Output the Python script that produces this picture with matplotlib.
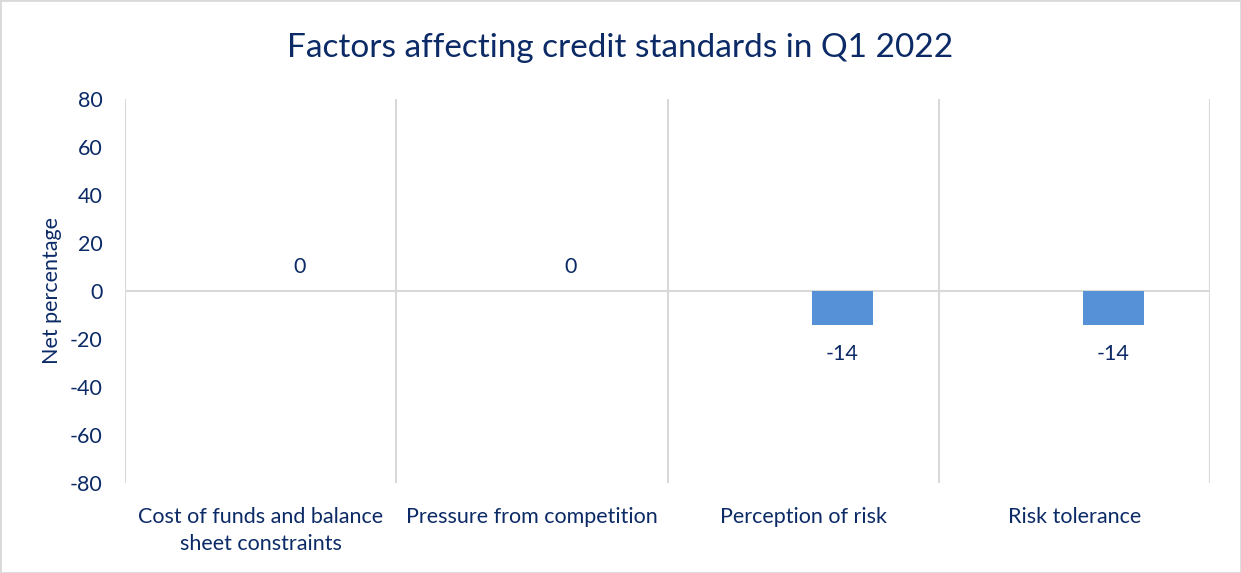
import matplotlib
matplotlib.use("Agg")
import matplotlib.pyplot as plt
import numpy as np

categories = ["Cost of funds and balance\nsheet constraints", "Pressure from competition",
              "Perception of risk", "Risk tolerance"]
values = [0, 0, -14, -14]
yticks = [80, 60, 40, 20, 0, -20, -40, -60, -80]

navy = "#0B2A66"
grid = "#D9D9D9"
barc = "#5690D7"
fs = 15.5

plt.rcParams['font.family'] = ['Lato', 'DejaVu Sans']

fig = plt.figure(figsize=(12.41, 5.73), dpi=100)
ax = fig.add_axes([125/1241, 1-483/573, (1210-125)/1241, (483-99)/573])

x = np.arange(len(categories))
offset = 0.144  # bar sits in the right slot of a cluster
ax.bar(x + offset, values, width=0.225, color=barc, zorder=3)
ax.set_xlim(-0.5, len(categories) - 0.5)
ax.set_ylim(-80, 80)
ax.set_yticks(yticks)
ax.set_yticklabels([str(t) for t in yticks], color=navy, fontsize=fs)
ax.tick_params(axis='y', length=0, pad=16)
ax.set_xticks(x)
ax.set_xticklabels(categories, color=navy, fontsize=fs, linespacing=1.45)
ax.tick_params(axis='x', length=0, pad=17)

for s in ax.spines.values():
    s.set_visible(False)
for b in np.arange(len(categories) + 1) - 0.5:
    ax.axvline(b, color=grid, lw=1.5, zorder=1)
ax.axhline(0, color=grid, lw=1.5, zorder=2)

for xi, v in zip(x + offset, values):
    if v >= 0:
        ax.annotate(str(v), (xi, v), xytext=(0, 10), textcoords='offset points',
                    ha='center', va='bottom', color=navy, fontsize=fs)
    else:
        ax.annotate(str(v), (xi, v), xytext=(0, -14), textcoords='offset points',
                    ha='center', va='top', color=navy, fontsize=fs)

ax.set_ylabel("Net percentage", color=navy, fontsize=fs, labelpad=6)
fig.text(0.5, 1-48/573, "Factors affecting credit standards in Q1 2022", ha='center', va='center',
         color=navy, fontsize=24)

fig.patches.append(matplotlib.patches.Rectangle((0, 0), 1, 1, transform=fig.transFigure,
                                                fill=False, edgecolor=grid, lw=2))
fig.savefig("out.png", dpi=100)
